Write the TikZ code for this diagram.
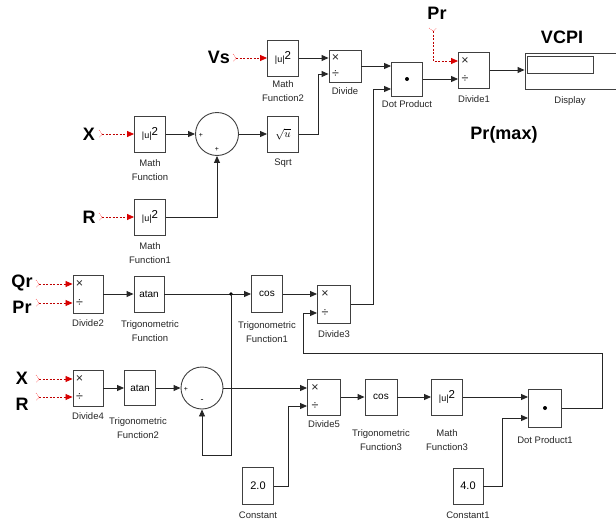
\documentclass[tikz,border=0pt]{standalone}
\usepackage{fontspec}
\setmainfont{Liberation Sans}
\usetikzlibrary{arrows.meta,calc}
\newcommand{\usq}{{\fontsize{9}{9}\selectfont |u|}\raisebox{2.5pt}{\fontsize{11.5}{11.5}\selectfont 2}}
\newcommand{\rmarkright}[1]{\draw[rmark] ($(#1)+(-3,-4)$) -- (#1) -- ($(#1)+(-3,4)$);}
\newcommand{\rmarkdown}[1]{\draw[rmark] ($(#1)+(-4,-3)$) -- (#1) -- ($(#1)+(4,-3)$);}
\begin{document}
\begin{tikzpicture}[x=1pt,y=-1pt,
  blk/.style={draw=black!75, line width=0.9pt, fill=white, minimum width=31pt, minimum height=36pt, inner sep=0pt, font=\fontsize{10}{10}\selectfont},
  lbl/.style={font=\fontsize{9.5}{14.5}\selectfont, align=center, text=black!85, inner sep=0pt},
  big/.style={font=\fontsize{18}{18}\selectfont\bfseries, inner sep=0pt},
  sym/.style={font=\fontsize{12.5}{12.5}\selectfont, inner sep=0pt, text=black!85},
  sgn/.style={font=\fontsize{7}{7}\selectfont, inner sep=0pt},
  wire/.style={draw=black!85, line width=0.9pt},
  arr/.style={wire, -{Triangle[length=7pt,width=6pt]}},
  redarr/.style={draw=red!75!black, line width=0.8pt, dash pattern=on 2pt off 1.5pt, -{Triangle[length=7pt,width=6pt,color=red!85!black]}},
  rmark/.style={draw=red!60, line width=0.6pt, dash pattern=on 1pt off 1pt},
  sumc/.style={draw=black!75, line width=0.9pt, circle, minimum size=43pt, inner sep=0pt},
]
\useasboundingbox (0,0) rectangle (616,522);

% ---------------- top ----------------
\node[big] (vs) at (219,57) {Vs};
\node[blk] (mf2) at (283,58) {\usq};
\node[lbl] (mf2l) at (283,91) {Math\\Function2};
\node[blk, minimum width=32pt, minimum height=32pt] (div) at (345,66) {};
\node[sym] (divx) at ($(div.west)+(7,-8)$) {×};
\node[sym] (divd) at ($(div.west)+(7,8)$) {÷};
\node[lbl] (divl) at (345,91) {Divide};
\node[blk, minimum height=34pt] (dot) at (407,79) {};
\fill (dot.center) circle (2);
\node[lbl] (dotl) at (407,104) {Dot Product};
\node[blk] (div1) at (474,70) {};
\node[sym] (div1x) at ($(div1.west)+(7,-9)$) {×};
\node[sym] (div1d) at ($(div1.west)+(7,9)$) {÷};
\node[lbl] (div1l) at (474,99) {Divide1};
\node[big] (prtop) at (437,13) {Pr};
\node[draw=black!75, line width=0.9pt, fill=white, minimum width=91pt, minimum height=36pt, inner sep=0pt] (disp) at (570.5,71) {};
\draw[black!75, line width=0.8pt] ($(disp.north west)+(3,4)$) rectangle ($(disp.north west)+(69,21)$);
\node[lbl] (displ) at (570,101) {Display};
\node[big] (vcpi) at (562,37) {VCPI};
\node[big] (prmax) at (504,135) {Pr(max)};

\node[blk] (sqrt) at (283,134) {\fontsize{11}{11}\selectfont$\sqrt{u}$};
\node[lbl] (sqrtl) at (283,163) {Sqrt};
\node[big] (x1) at (89,134) {X};
\node[blk] (mf) at (150,134) {\usq};
\node[lbl] (mfl) at (150,170) {Math\\Function};
\node[sumc] (sum1) at (217,134) {};
\node[sgn] (s1a) at (201,135) {+};
\node[sgn] (s1b) at (217,149) {+};
\node[big] (r1) at (89,217) {R};
\node[blk] (mf1) at (150,217) {\usq};
\node[lbl] (mf1l) at (150,253) {Math\\Function1};

\coordinate (vsS) at (236,58);
\coordinate (xS) at (102,134);
\coordinate (rS) at (102,217);
\coordinate (prS) at (433,31);
\draw[redarr] (vsS) -- (mf2.west);
\draw[redarr] (xS) -- (mf.west);
\draw[redarr] (rS) -- (mf1.west);
\draw[redarr] (prS) |- ($(div1.west)+(0,-9)$);
\rmarkright{vsS}
\rmarkright{xS}
\rmarkright{rS}
\rmarkdown{prS}

\draw[arr] (mf2.east) -- ($(div.west)+(0,-8)$);
\draw[arr] (sqrt.east) -- ++(19,0) |- ($(div.west)+(0,8)$);
\draw[arr] (div.east) -- ($(dot.west)+(0,-13)$);
\draw[arr] (dot.east) -- ($(div1.west)+(0,9)$);
\draw[arr] (div1.east) -- (disp.west |- div1.east);
\draw[arr] (mf.east) -- (sum1.west);
\draw[arr] (sum1.east) -- (sqrt.west);
\draw[arr] (mf1.east) -| (sum1.south);

% ---------------- middle ----------------
\node[big] (qr) at (22,283) {Qr};
\node[big] (pr2) at (22,307) {Pr};
\node[blk, minimum width=30pt, minimum height=38pt] (div2) at (88,294) {};
\node[sym] (div2x) at ($(div2.west)+(7,-10)$) {×};
\node[sym] (div2d) at ($(div2.west)+(7,9)$) {÷};
\node[lbl] (div2l) at (88,323) {Divide2};
\node[blk, minimum width=30pt] (atan1) at (149,294) {atan};
\node[lbl] (atan1l) at (150,331) {Trigonometric\\Function};
\coordinate (j1) at (231,294);
\node[blk, minimum height=37pt] (cos1) at (267,294) {cos};
\node[lbl] (cos1l) at (267,332) {Trigonometric\\Function1};
\node[blk, minimum width=33pt, minimum height=38pt] (div3) at (334,304) {};
\node[sym] (div3x) at ($(div3.west)+(8,-10)$) {×};
\node[sym] (div3d) at ($(div3.west)+(8,9)$) {÷};
\node[lbl] (div3l) at (334,334) {Divide3};

\coordinate (qrS) at (39,284);
\coordinate (prS2) at (39,303);
\draw[redarr] (qrS) -- ($(div2.west)+(0,-10)$);
\draw[redarr] (prS2) -- ($(div2.west)+(0,9)$);
\rmarkright{qrS}
\rmarkright{prS2}

\draw[arr] (div2.east) -- (atan1.west);
\draw[wire] (atan1.east) -- (j1);
\draw[arr] (j1) -- (cos1.west);
\fill (j1) circle (1.8);
\draw[arr] (cos1.east) -- ($(div3.west)+(0,-10)$);
\draw[arr] (div3.east) -- ++(22.5,0) |- ($(dot.west)+(0,10)$);

% ---------------- bottom ----------------
\node[big] (x2) at (22,378) {X};
\node[big] (r2) at (22,404) {R};
\node[blk, minimum width=30pt] (div4) at (88,388) {};
\node[sym] (div4x) at ($(div4.west)+(7,-9)$) {×};
\node[sym] (div4d) at ($(div4.west)+(7,9)$) {÷};
\node[lbl] (div4l) at (88,416) {Divide4};
\node[blk, minimum height=35pt] (atan2) at (140,388) {atan};
\node[lbl] (atan2l) at (138,428) {Trigonometric\\Function2};
\node[sumc, minimum size=42pt] (sum2) at (202,388) {};
\node[sgn] (s2a) at (186,389) {+};
\node[sgn, font=\fontsize{9}{9}\selectfont] (s2b) at (202,401) {-};
\node[blk, minimum width=33pt] (div5) at (324,397) {};
\node[sym] (div5x) at ($(div5.west)+(8,-9)$) {×};
\node[sym] (div5d) at ($(div5.west)+(8,9)$) {÷};
\node[lbl] (div5l) at (324,424) {Divide5};
\node[blk, minimum width=32pt] (cos3) at (381,397) {cos};
\node[lbl] (cos3l) at (381,440) {Trigonometric\\Function3};
\node[blk] (mf3) at (447,397) {\usq};
\node[lbl] (mf3l) at (447,440) {Math\\Function3};
\node[blk, minimum width=33pt, minimum height=38pt] (dp1) at (545,408) {};
\fill (dp1.center) circle (2);
\node[lbl] (dp1l) at (545,440) {Dot Product1};
\node[blk, minimum height=37pt] (const) at (258,486) {\fontsize{11}{11}\selectfont 2.0};
\node[lbl] (constl) at (258,515) {Constant};
\node[blk, minimum width=30pt] (const1) at (468,486) {\fontsize{11}{11}\selectfont 4.0};
\node[lbl] (const1l) at (468,515) {Constant1};

\coordinate (x2S) at (39,379);
\coordinate (r2S) at (39,397);
\draw[redarr] (x2S) -- ($(div4.west)+(0,-9)$);
\draw[redarr] (r2S) -- ($(div4.west)+(0,9)$);
\rmarkright{x2S}
\rmarkright{r2S}

\coordinate (jb) at (231,455);
\coordinate (c1) at (602,353);
\coordinate (c2) at (303,353);
\draw[arr] (j1) -- (jb) -| (sum2.south);
\draw[arr] (div4.east) -- (atan2.west);
\draw[arr] (atan2.east) -- (sum2.west);
\draw[arr] (sum2.east) -- ($(div5.west)+(0,-9)$);
\draw[arr] (div5.east) -- (cos3.west);
\draw[arr] (cos3.east) -- (mf3.west);
\draw[arr] (mf3.east) -- ($(dp1.west)+(0,-11)$);
\draw[arr] (const.east) -- ++(14,0) |- ($(div5.west)+(0,9)$);
\draw[arr] (const1.east) -- ++(19,0) |- ($(dp1.west)+(0,10)$);
\draw[arr] (dp1.east) -| (c1) -- (c2) |- ($(div3.west)+(0,9)$);
\end{tikzpicture}
\end{document}
